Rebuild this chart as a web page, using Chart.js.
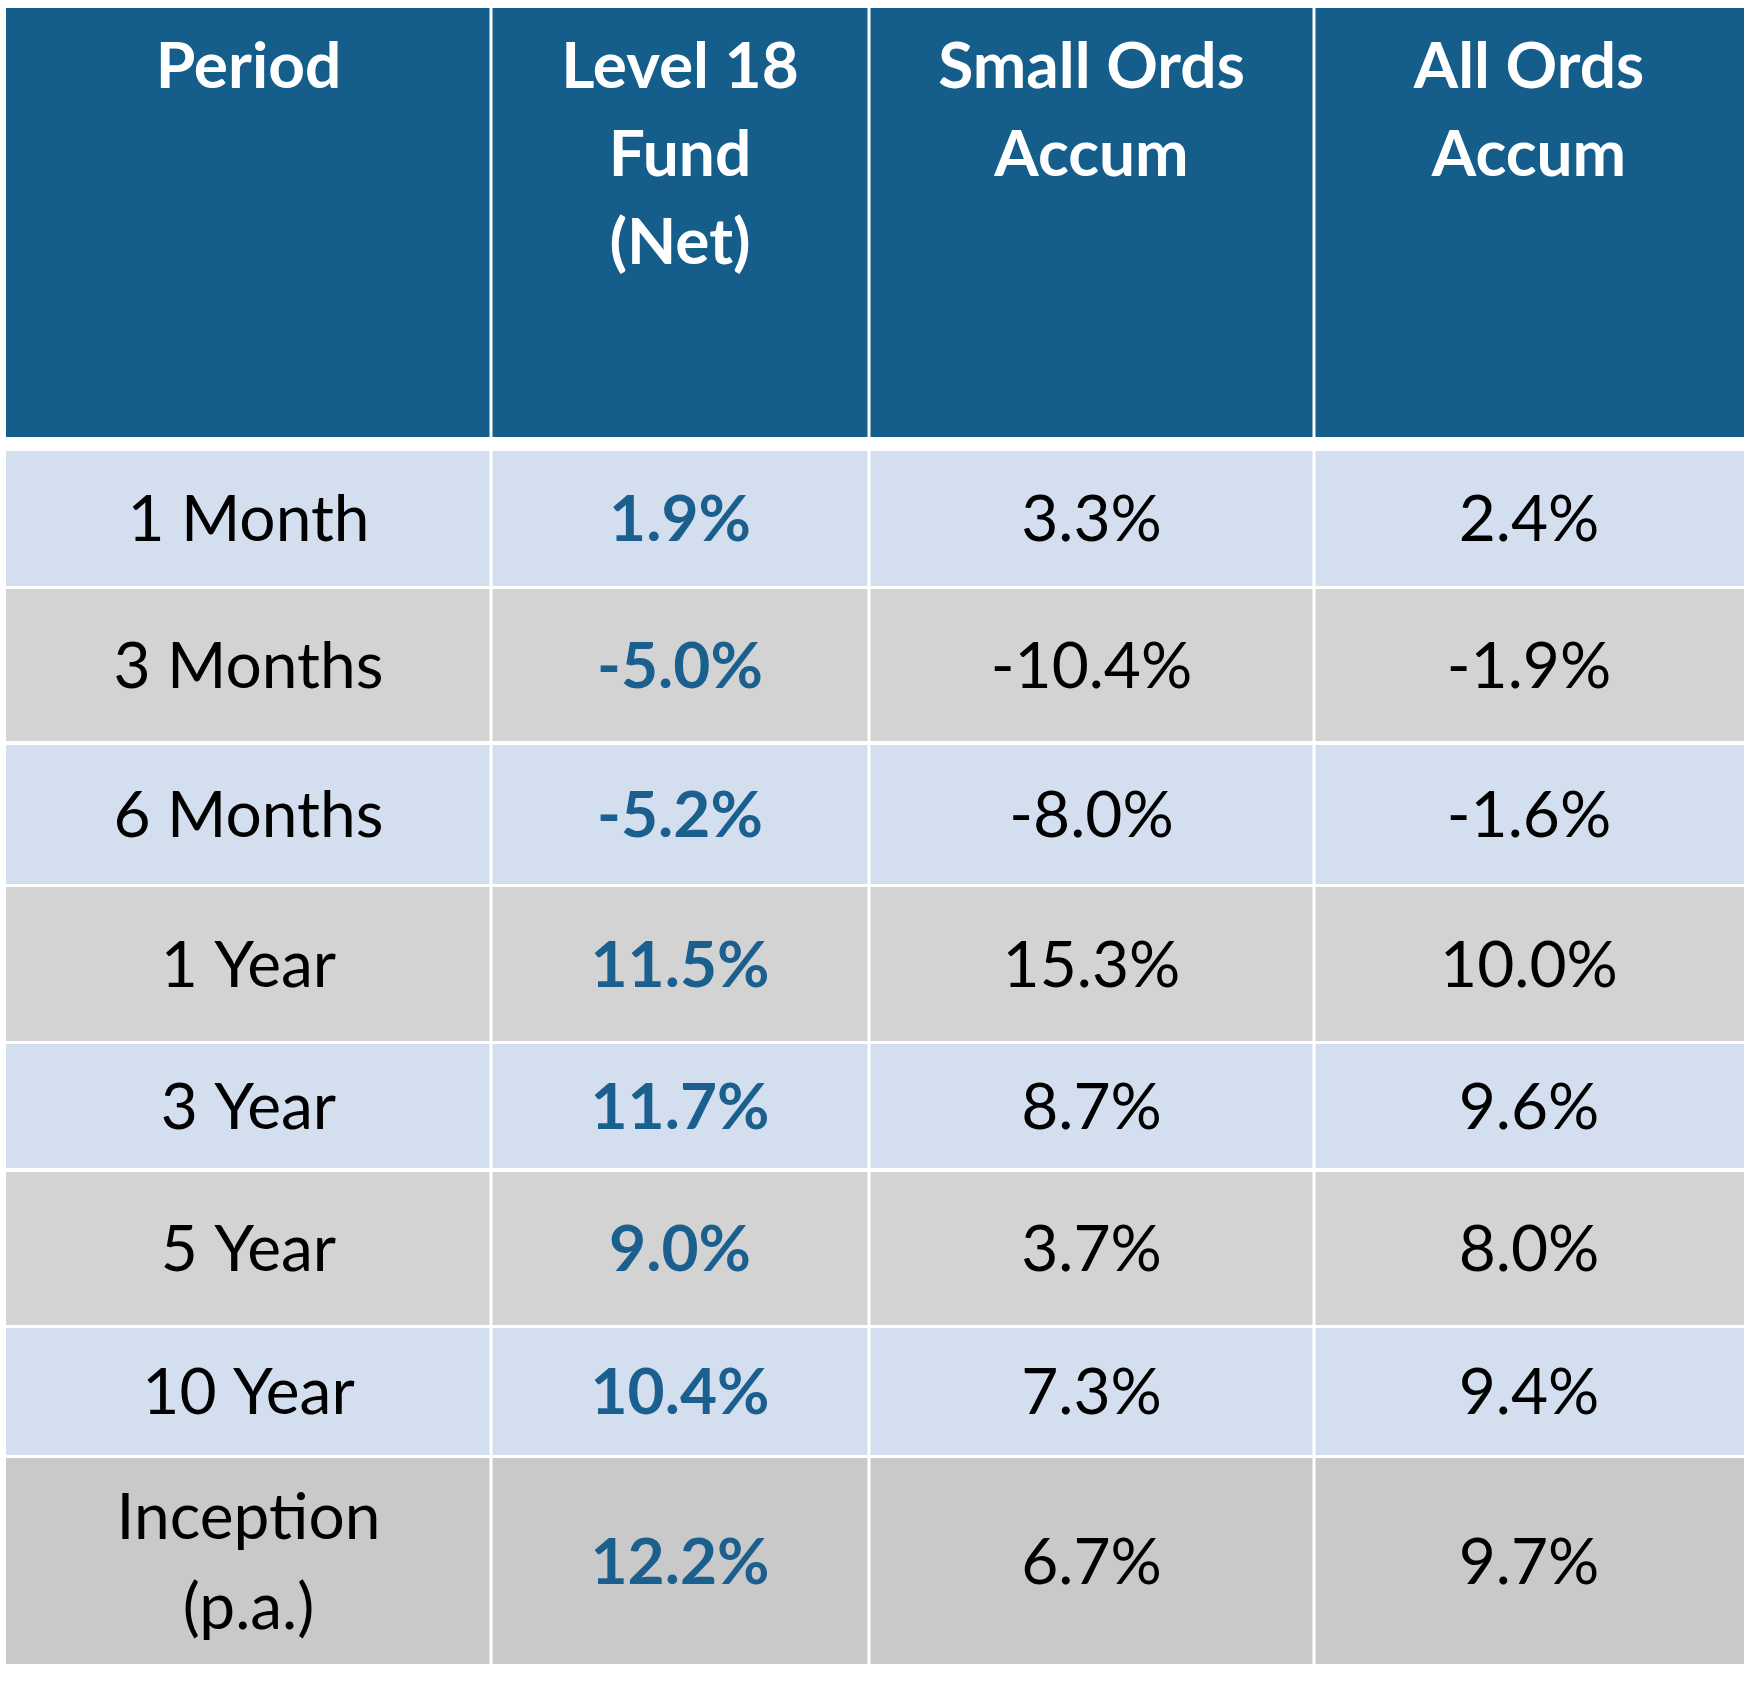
<!DOCTYPE html>
<html>
<head>
<meta charset="utf-8">
<script src="https://cdn.jsdelivr.net/npm/chart.js@4.4.0/dist/chart.umd.min.js"></script>
<style>
  html, body { margin: 0; padding: 0; background: #ffffff; }
  #wrap { width: 1756px; height: 1696px; }
</style>
</head>
<body>
<div id="wrap"><canvas id="tbl"></canvas></div>
<script>
// table content
const headers = [['Period'], ['Level 18', 'Fund', '(Net)'], ['Small Ords', 'Accum'], ['All Ords', 'Accum']];
const periods = [['1 Month'], ['3 Months'], ['6 Months'], ['1 Year'], ['3 Year'], ['5 Year'], ['10 Year'], ['Inception', '(p.a.)']];
const fundNet = ['1.9%', '-5.0%', '-5.2%', '11.5%', '11.7%', '9.0%', '10.4%', '12.2%'];
const smallOrds = ['3.3%', '-10.4%', '-8.0%', '15.3%', '8.7%', '3.7%', '7.3%', '6.7%'];
const allOrds = ['2.4%', '-1.9%', '-1.6%', '10.0%', '9.6%', '8.0%', '9.4%', '9.7%'];

// layout (pixel units of the chart's own scales)
const colEdges = [6, 491, 869, 1314, 1744];
const headerBox = [8, 437];
const rowEdges = [[451, 586], [589, 741], [745, 884], [887, 1041], [1044, 1168], [1172, 1325], [1328, 1455], [1458, 1664]];
const gap = 3;
const FONT = 'Lato, "Open Sans", sans-serif';

const tablePlugin = {
    id: 'tablePlugin',
    afterDraw: function (chart) {
        const ctx = chart.ctx;
        const sx = chart.scales.x, sy = chart.scales.y;
        function rect(x0, x1, y0, y1, color) {
            const px0 = sx.getPixelForValue(x0), px1 = sx.getPixelForValue(x1);
            const py0 = sy.getPixelForValue(y0), py1 = sy.getPixelForValue(y1);
            ctx.fillStyle = color;
            ctx.fillRect(px0, py0, px1 - px0, py1 - py0);
        }
        function text(lines, cx, cy, spacing, font, color) {
            ctx.font = font;
            ctx.fillStyle = color;
            ctx.textAlign = 'center';
            ctx.textBaseline = 'middle';
            const start = cy - (lines.length - 1) * spacing / 2;
            lines.forEach(function (l, i) {
                ctx.fillText(l, sx.getPixelForValue(cx), sy.getPixelForValue(start + i * spacing));
            });
        }
        ctx.save();
        const cols = [periods, fundNet, smallOrds, allOrds];
        for (let c = 0; c < 4; c++) {
            const x0 = colEdges[c] + (c > 0 ? gap / 2 : 0);
            const x1 = colEdges[c + 1] - (c < 3 ? gap / 2 : 0);
            const cx = (colEdges[c] + colEdges[c + 1]) / 2;
            rect(x0, x1, headerBox[0], headerBox[1], '#155d8b');
            const h = headers[c];
            text(h, cx, 67 + (h.length - 1) * 44, 88, 'bold 64px ' + FONT, '#ffffff');
            rowEdges.forEach(function (r, i) {
                let bg = i % 2 === 0 ? '#d3deef' : '#d3d3d3';
                if (i === rowEdges.length - 1) bg = '#c9c9c9';
                rect(x0, x1, r[0], r[1], bg);
                const v = cols[c][i];
                const lines = Array.isArray(v) ? v : [v];
                const cy = (r[0] + r[1]) / 2 + 2;
                if (c === 1) text(lines, cx, cy, 90, 'bold 64px ' + FONT, '#1a5f8e');
                else text(lines, cx, cy, 90, '64px ' + FONT, '#000000');
            });
        }
        ctx.restore();
    }
};

new Chart(document.getElementById('tbl'), {
    type: 'scatter',
    data: { datasets: [{ data: [] }] },
    options: {
        responsive: true,
        maintainAspectRatio: false,
        animation: false,
        layout: { padding: 0 },
        plugins: { legend: { display: false }, tooltip: { enabled: false } },
        scales: {
            x: { type: 'linear', min: 0, max: 1756, display: false },
            y: { type: 'linear', min: 0, max: 1696, reverse: true, display: false }
        }
    },
    plugins: [tablePlugin]
});
</script>
</body>
</html>
